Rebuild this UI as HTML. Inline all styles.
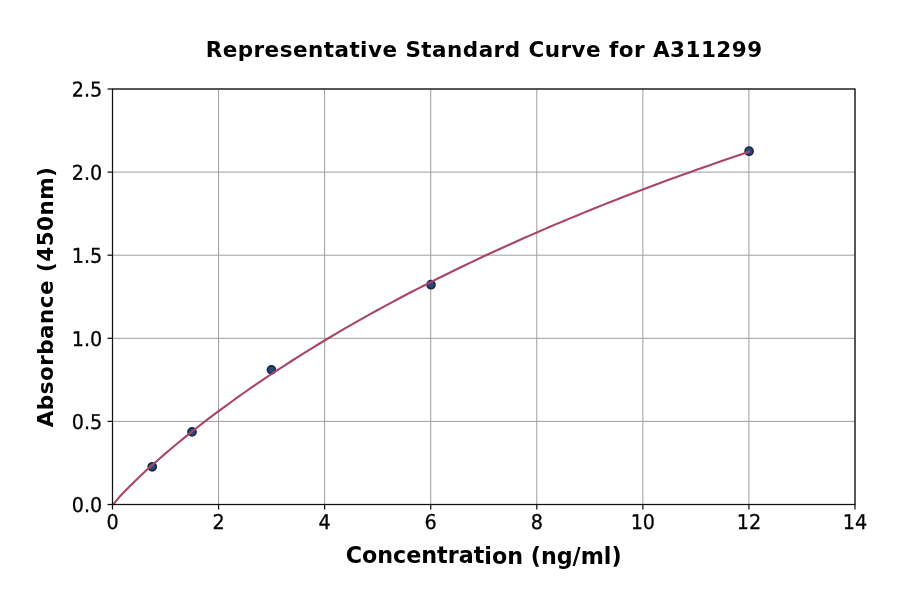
<!DOCTYPE html>
<html lang="en"><head><meta charset="utf-8"><title>Representative Standard Curve for A311299</title>
<style>
html,body{margin:0;padding:0;background:#fff;}
body{width:900px;height:594px;overflow:hidden;}
svg{display:block;}
text{font-family:"DejaVu Sans","Liberation Sans",sans-serif;fill:#000000;}
.tk{font-size:20.4px;stroke:#000000;stroke-width:0.3px;}
.b{font-weight:bold;}
</style></head><body>
<svg width="900" height="594" viewBox="0 0 900 594">
<rect width="900" height="594" fill="#ffffff"/>
<g stroke="#9e9e9e" stroke-width="1.0" fill="none">
<line x1="112.50" y1="89.0" x2="112.50" y2="504.5"/>
<line x1="218.57" y1="89.0" x2="218.57" y2="504.5"/>
<line x1="324.64" y1="89.0" x2="324.64" y2="504.5"/>
<line x1="430.71" y1="89.0" x2="430.71" y2="504.5"/>
<line x1="536.79" y1="89.0" x2="536.79" y2="504.5"/>
<line x1="642.86" y1="89.0" x2="642.86" y2="504.5"/>
<line x1="748.93" y1="89.0" x2="748.93" y2="504.5"/>
<line x1="855.00" y1="89.0" x2="855.00" y2="504.5"/>
<line x1="112.5" y1="504.50" x2="855.0" y2="504.50"/>
<line x1="112.5" y1="421.40" x2="855.0" y2="421.40"/>
<line x1="112.5" y1="338.30" x2="855.0" y2="338.30"/>
<line x1="112.5" y1="255.20" x2="855.0" y2="255.20"/>
<line x1="112.5" y1="172.10" x2="855.0" y2="172.10"/>
<line x1="112.5" y1="89.00" x2="855.0" y2="89.00"/>
</g>
<g fill="#264a75" stroke="#1a2947" stroke-width="1.7">
<circle cx="152.25" cy="466.8" r="4.0"/>
<circle cx="192.0" cy="431.9" r="4.0"/>
<circle cx="271.45" cy="369.85" r="4.0"/>
<circle cx="431.0" cy="284.7" r="4.0"/>
<circle cx="749.1" cy="151.2" r="4.0"/>
</g>
<clipPath id="axclip"><rect x="112.5" y="89.0" width="742.5" height="415.5"/></clipPath>
<polyline clip-path="url(#axclip)" points="112.5,505.3 119.1,497.3 125.8,490.3 132.4,483.7 139.0,477.3 145.6,471.1 152.3,465.0 158.9,459.2 165.5,453.4 172.2,447.8 178.8,442.3 185.4,436.9 192.1,431.5 198.7,426.3 205.3,421.2 211.9,416.2 218.6,411.2 225.2,406.3 231.8,401.5 238.5,396.7 245.1,392.0 251.7,387.4 258.3,382.9 265.0,378.4 271.6,374.0 278.2,369.6 284.9,365.3 291.5,361.0 298.1,356.8 304.8,352.7 311.4,348.6 318.0,344.5 324.6,340.5 331.3,336.5 337.9,332.6 344.5,328.7 351.2,324.9 357.8,321.1 364.4,317.4 371.0,313.7 377.7,310.0 384.3,306.4 390.9,302.8 397.6,299.3 404.2,295.8 410.8,292.3 417.5,288.9 424.1,285.5 430.7,282.1 437.3,278.8 444.0,275.5 450.6,272.2 457.2,269.0 463.9,265.8 470.5,262.6 477.1,259.5 483.8,256.3 490.4,253.3 497.0,250.2 503.6,247.2 510.3,244.2 516.9,241.2 523.5,238.3 530.2,235.4 536.8,232.5 543.4,229.6 550.0,226.8 556.7,223.9 563.3,221.2 569.9,218.4 576.6,215.7 583.2,212.9 589.8,210.2 596.5,207.6 603.1,204.9 609.7,202.3 616.3,199.7 623.0,197.1 629.6,194.5 636.2,192.0 642.9,189.5 649.5,187.0 656.1,184.5 662.7,182.0 669.4,179.6 676.0,177.2 682.6,174.8 689.3,172.4 695.9,170.0 702.5,167.7 709.2,165.4 715.8,163.0 722.4,160.8 729.0,158.5 735.7,156.2 742.3,154.0 748.9,151.8" fill="none" stroke="#a9456b" stroke-width="2.1" stroke-linecap="square" stroke-linejoin="round"/>
<g stroke="#111111" stroke-width="1.25">
<line x1="112.50" y1="504.5" x2="112.50" y2="509.5"/>
<line x1="218.57" y1="504.5" x2="218.57" y2="509.5"/>
<line x1="324.64" y1="504.5" x2="324.64" y2="509.5"/>
<line x1="430.71" y1="504.5" x2="430.71" y2="509.5"/>
<line x1="536.79" y1="504.5" x2="536.79" y2="509.5"/>
<line x1="642.86" y1="504.5" x2="642.86" y2="509.5"/>
<line x1="748.93" y1="504.5" x2="748.93" y2="509.5"/>
<line x1="855.00" y1="504.5" x2="855.00" y2="509.5"/>
<line x1="107.5" y1="504.50" x2="112.5" y2="504.50"/>
<line x1="107.5" y1="421.40" x2="112.5" y2="421.40"/>
<line x1="107.5" y1="338.30" x2="112.5" y2="338.30"/>
<line x1="107.5" y1="255.20" x2="112.5" y2="255.20"/>
<line x1="107.5" y1="172.10" x2="112.5" y2="172.10"/>
<line x1="107.5" y1="89.00" x2="112.5" y2="89.00"/>
</g>
<rect x="112.5" y="89.0" width="742.5" height="415.5" fill="none" stroke="#111111" stroke-width="1.25"/>
<g class="tk">
<text id="xt0" transform="translate(112.50,528.9) scale(0.94,1) rotate(0.03)" text-anchor="middle">0</text>
<text id="xt2" transform="translate(218.57,528.9) scale(0.94,1) rotate(0.03)" text-anchor="middle">2</text>
<text id="xt4" transform="translate(324.64,528.9) scale(0.94,1) rotate(0.03)" text-anchor="middle">4</text>
<text id="xt6" transform="translate(430.71,528.9) scale(0.94,1) rotate(0.03)" text-anchor="middle">6</text>
<text id="xt8" transform="translate(536.79,528.9) scale(0.94,1) rotate(0.03)" text-anchor="middle">8</text>
<text id="xt10" transform="translate(642.86,528.9) scale(0.94,1) rotate(0.03)" text-anchor="middle">10</text>
<text id="xt12" transform="translate(748.93,528.9) scale(0.94,1) rotate(0.03)" text-anchor="middle">12</text>
<text id="xt14" transform="translate(855.00,528.9) scale(0.94,1) rotate(0.03)" text-anchor="middle">14</text>
<text id="yt0" transform="translate(102.3,512.10) scale(0.94,1) rotate(0.03)" text-anchor="end">0.0</text>
<text id="yt5" transform="translate(102.3,429.00) scale(0.94,1) rotate(0.03)" text-anchor="end">0.5</text>
<text id="yt10" transform="translate(102.3,345.90) scale(0.94,1) rotate(0.03)" text-anchor="end">1.0</text>
<text id="yt15" transform="translate(102.3,262.80) scale(0.94,1) rotate(0.03)" text-anchor="end">1.5</text>
<text id="yt20" transform="translate(102.3,179.70) scale(0.94,1) rotate(0.03)" text-anchor="end">2.0</text>
<text id="yt25" transform="translate(102.3,96.60) scale(0.94,1) rotate(0.03)" text-anchor="end">2.5</text>
</g>
<text id="title" class="b" transform="translate(484.10,57) rotate(0.02)" text-anchor="middle" letter-spacing="0.455" font-size="21.5">Representative Standard Curve for A311299</text>
<text id="xl" class="b" transform="translate(483.65,563.5) rotate(0.02)" text-anchor="middle" font-size="22.22">Concentration (ng/ml)</text>
<text id="yl" class="b" transform="translate(52.7,296.95) rotate(-90.02)" text-anchor="middle" letter-spacing="0.455" font-size="21.5">Absorbance (450nm)</text>
</svg></body></html>
